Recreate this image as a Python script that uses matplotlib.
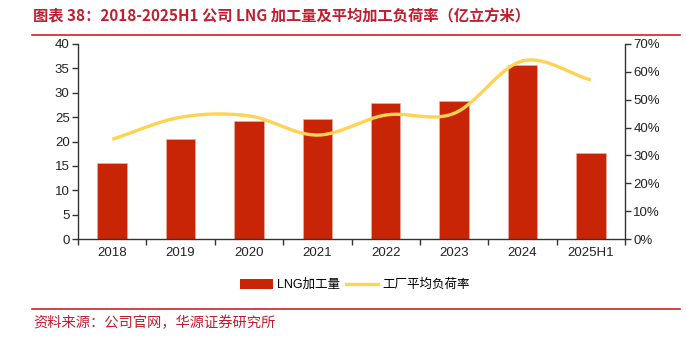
import numpy as np
import matplotlib.pyplot as plt
from matplotlib.lines import Line2D
from matplotlib.patches import Patch

plt.rcParams['font.family'] = ['Liberation Sans', 'Noto Sans CJK SC', 'DejaVu Sans']

years = ['2018', '2019', '2020', '2021', '2022', '2023', '2024', '2025H1']
volume = [15.5, 20.6, 24.3, 24.6, 27.9, 28.3, 35.6, 17.6]        # 亿立方米
load_rate = [35.8, 43.7, 44.2, 37.3, 44.5, 45.1, 63.9, 57.1]      # %

BAR_RED = '#c82406'
LINE_YEL = '#ffd350'
HEAD_RED = '#be1e2d'


def smooth(xs, ys, n=30):
    # Catmull-Rom curve through the points, like a smoothed office line
    xs = np.asarray(xs, float)
    ys = np.asarray(ys, float)
    px = np.concatenate([[2 * xs[0] - xs[1]], xs, [2 * xs[-1] - xs[-2]]])
    py = np.concatenate([[2 * ys[0] - ys[1]], ys, [2 * ys[-1] - ys[-2]]])
    ox, oy = [], []
    t = np.linspace(0, 1, n)
    for i in range(1, len(px) - 2):
        for p, o in ((px, ox), (py, oy)):
            p0, p1, p2, p3 = p[i - 1], p[i], p[i + 1], p[i + 2]
            o.extend(0.5 * (2 * p1 + (-p0 + p2) * t
                            + (2 * p0 - 5 * p1 + 4 * p2 - p3) * t ** 2
                            + (-p0 + 3 * p1 - 3 * p2 + p3) * t ** 3))
    return np.array(ox), np.array(oy)


fig = plt.figure(figsize=(6.86, 3.37), dpi=100)
ax = fig.add_axes([78 / 686, 1 - 239 / 337, (625 - 78) / 686, (239 - 44) / 337])
x = np.arange(len(years))
ax.bar(x, volume, width=0.43, color=BAR_RED, edgecolor='#f0b0a0', linewidth=0.4, zorder=2)
ax.set_xlim(-0.5, len(years) - 0.5)
ax.set_ylim(0, 40)
ax.set_yticks(range(0, 41, 5))
ax.set_xticks(x)
ax.set_xticklabels(years)
ax.set_xticks(np.arange(-0.5, len(years), 1), minor=True)
ax.tick_params(axis='x', which='major', length=0, pad=6)
ax.tick_params(axis='x', which='minor', length=4, direction='out', width=1, color='#333333')
ax.tick_params(axis='y', length=4, direction='out', width=1, color='#333333', pad=2)
ax.tick_params(labelsize=9.5, labelcolor='#222222')
for s in ['top', 'right']:
    ax.spines[s].set_visible(False)
for s in ['left', 'bottom']:
    ax.spines[s].set_color('#333333')
    ax.spines[s].set_linewidth(1)

ax2 = ax.twinx()
sx, sy = smooth(x, load_rate)
ax2.plot(sx, sy, color=LINE_YEL, lw=2.4, solid_capstyle='butt', zorder=3)
ax2.set_ylim(0, 70)
ax2.set_yticks(range(0, 71, 10))
ax2.set_yticklabels([f'{v}%' for v in range(0, 71, 10)])
ax2.tick_params(axis='y', length=4, direction='out', width=1, color='#333333',
                labelsize=9.5, labelcolor='#222222', pad=2)
for s in ['top', 'left', 'bottom']:
    ax2.spines[s].set_visible(False)
ax2.spines['right'].set_color('#333333')
ax2.spines['right'].set_linewidth(1)

# legend below the axes
handles = [Patch(facecolor=BAR_RED, edgecolor='none'),
           Line2D([], [], color=LINE_YEL, lw=2.4)]
fig.legend(handles, ['LNG加工量', '工厂平均负荷率'], loc='center',
           bbox_to_anchor=(355 / 686, 1 - 285 / 337), ncol=2, frameon=False,
           handlelength=2.6, handleheight=0.8, columnspacing=0.5,
           handletextpad=0.3, prop={'family': ['Liberation Sans', 'Noto Sans CJK SC'], 'size': 9})

# title and source
fig.text(33 / 686, 1 - 16 / 337, '图表 38：2018-2025H1 公司 LNG 加工量及平均加工负荷率（亿立方米）',
         color=HEAD_RED, fontsize=11, fontweight='bold', va='center',
         family=['Noto Sans CJK SC', 'DejaVu Sans'])
fig.add_artist(Line2D([32 / 686, 680 / 686], [1 - 35 / 337] * 2, color='#d0202a', lw=1.2))
fig.add_artist(Line2D([32 / 686, 680 / 686], [1 - 309 / 337] * 2, color='#d0202a', lw=1.2))
fig.text(33 / 686, 1 - 323 / 337, '资料来源：公司官网，华源证券研究所',
         color=HEAD_RED, fontsize=10.3, va='center', family=['Noto Sans CJK SC', 'DejaVu Sans'])

fig.savefig('out.png', dpi=100)
